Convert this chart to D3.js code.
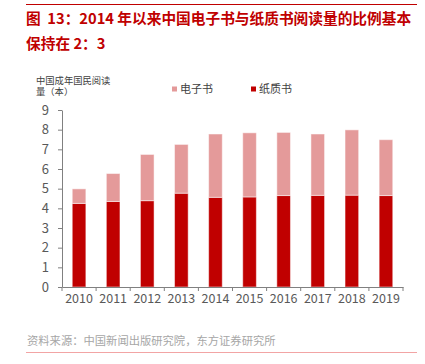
<!DOCTYPE html>
<html>
<head>
<meta charset="utf-8">
<script src="https://cdn.jsdelivr.net/npm/d3@7"></script>
<style>
  body { margin: 0; background: #fff; }
  text { font-family: "Noto Sans CJK SC", "Liberation Sans", sans-serif; }
</style>
</head>
<body>
<script>
const years = ["2010", "2011", "2012", "2013", "2014", "2015", "2016", "2017", "2018", "2019"];
const paper = [4.25, 4.35, 4.39, 4.77, 4.56, 4.58, 4.65, 4.66, 4.67, 4.65];
const ebook = [0.74, 1.42, 2.35, 2.48, 3.22, 3.26, 3.21, 3.12, 3.32, 2.84];
const yTicks = [0, 1, 2, 3, 4, 5, 6, 7, 8, 9];
const seriesNames = ["纸质书", "电子书"];
const seriesColours = ["#C00000", "#E49A9A"];

const width = 425;
const height = 364;
const margin = { left: 62, right: 22, top: 110, bottom: 77 };

const svg = d3.select("body")
    .append("svg")
    .attr("width", width)
    .attr("height", height);

// header / footer rules
svg.append("line")
    .attr("x1", 26).attr("x2", 417)
    .attr("y1", 4.5).attr("y2", 4.5)
    .attr("stroke", "#C00000")
    .attr("stroke-width", 1);
svg.append("line")
    .attr("x1", 26).attr("x2", 417)
    .attr("y1", 352.5).attr("y2", 352.5)
    .attr("stroke", "#F2A4A4")
    .attr("stroke-width", 1);

const title = svg.append("text")
    .attr("fill", "#C00000")
    .attr("font-size", 14.7)
    .attr("font-weight", "bold")
    .style("white-space", "pre");
title.append("tspan").attr("x", 26).attr("y", 24)
    .text("图  13：2014 年以来中国电子书与纸质书阅读量的比例基本");
title.append("tspan").attr("x", 26).attr("y", 49)
    .text("保持在 2：3");

svg.append("text")
    .attr("x", 27).attr("y", 345)
    .attr("fill", "#A6A6A6")
    .attr("font-size", 11.3)
    .text("资料来源：中国新闻出版研究院，东方证券研究所");

// y axis label, two lines
const ylab = svg.append("g")
    .attr("fill", "#404040")
    .attr("font-size", 9.3);
ylab.append("text").attr("x", 36).attr("y", 83.5)
    .style("font-family", "'Liberation Sans', 'Noto Sans CJK SC', sans-serif")
    .text("中国成年国民阅读");
ylab.append("text").attr("x", 36).attr("y", 94.5)
    .style("font-family", "'Liberation Sans', 'Noto Sans CJK SC', sans-serif")
    .text("量（本）");

const x = d3.scaleBand()
    .domain(years)
    .range([margin.left, width - margin.right])
    .paddingInner(0.6)
    .paddingOuter(0.3);

const y = d3.scaleLinear()
    .domain([0, 9])
    .range([height - margin.bottom, margin.top]);

const stacked = d3.stack()
    .keys([0, 1])
    .value((d, k) => k === 0 ? paper[d] : ebook[d])(d3.range(years.length));

svg.append("g")
    .selectAll("g")
    .data(stacked)
    .join("g")
    .attr("fill", (s, i) => seriesColours[i])
    .selectAll("rect")
    .data(s => s)
    .join("rect")
    .attr("x", (d, i) => x(years[i]))
    .attr("width", x.bandwidth())
    .attr("y", d => y(d[1]))
    .attr("height", d => y(d[0]) - y(d[1]))
    .attr("stroke", "#fff")
    .attr("stroke-opacity", 0.5)
    .attr("stroke-width", 1);

// y axis
const yAxis = svg.append("g")
    .attr("transform", `translate(${margin.left},0)`)
    .call(d3.axisLeft(y).tickValues(yTicks).tickSize(4).tickSizeOuter(0).tickPadding(9));
yAxis.selectAll("text")
    .attr("font-size", 13)
    .attr("fill", "#595959")
    .attr("font-family", "Liberation Sans, sans-serif");

// x axis, ticks at band edges
const xAxis = svg.append("g")
    .attr("transform", `translate(0,${y(0)})`)
    .call(d3.axisBottom(x).tickSize(0).tickSizeOuter(0).tickPadding(7));
xAxis.selectAll("text")
    .attr("font-size", 12.5)
    .attr("fill", "#595959")
    .attr("font-family", "Liberation Sans, sans-serif");
const step = x.step();
const edges = d3.range(years.length + 1).map(i => margin.left + i * step);
xAxis.selectAll("line.edge")
    .data(edges)
    .join("line")
    .attr("class", "edge")
    .attr("x1", d => d).attr("x2", d => d)
    .attr("y1", 0).attr("y2", 4)
    .attr("stroke", "#808080");

svg.selectAll(".domain, .tick line").attr("stroke", "#808080");

// legend
const legendItems = [
    { name: seriesNames[1], colour: seriesColours[1], x: 172 },
    { name: seriesNames[0], colour: seriesColours[0], x: 251 }
];
const lg = svg.append("g")
    .selectAll("g")
    .data(legendItems)
    .join("g");
lg.append("rect")
    .attr("x", d => d.x)
    .attr("y", 86.5)
    .attr("width", 5)
    .attr("height", 5)
    .attr("fill", d => d.colour);
lg.append("text")
    .attr("x", d => d.x + 8)
    .attr("y", 93)
    .attr("font-size", 11)
    .attr("fill", "#404040")
    .text(d => d.name);
</script>
</body>
</html>
